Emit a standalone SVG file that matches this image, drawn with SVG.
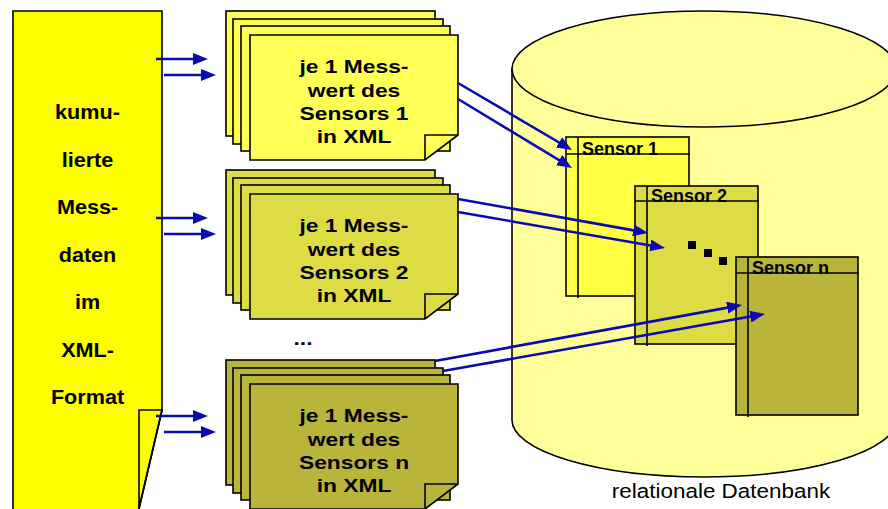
<svg xmlns="http://www.w3.org/2000/svg" width="888" height="509" viewBox="0 0 888 509">
  <defs>
    <style>
      .ln { stroke: #000; stroke-width: 1.6; stroke-linejoin: miter; }
      .doc { fill: #FFFF00; }
      .c1 { fill: #FFFF55; }
      .c2 { fill: #DEDC45; }
      .c3 { fill: #B8B53A; }
      .t1 { fill: #FFFF44; }
      .db { fill: #FFFF99; }
      .lbl { font-family: "Liberation Sans", Arial, sans-serif; font-weight: bold; fill: #000; text-anchor: middle; }
      .big { font-size: 19px; }
      .side { font-size: 20px; }
      .tab { font-family: "Liberation Sans", Arial, sans-serif; font-weight: bold; font-size: 18px; fill: #000; }
      .cap { font-family: "Liberation Sans", Arial, sans-serif; font-size: 21px; fill: #000; text-anchor: middle; }
      .arr { fill: none; stroke: #0A0AB0; stroke-width: 2.6; marker-end: url(#head); }
    </style>
    <marker id="head" markerUnits="userSpaceOnUse" markerWidth="15" markerHeight="12" refX="9" refY="6" orient="auto">
      <path d="M0,0 L15,6 L0,12 Z" fill="#0A0AB0"/>
    </marker>
    <!-- one record sheet: plain back sheets and a front sheet with folded corner -->
    <g id="sheets">
      <rect x="226" y="0" width="209" height="125"/>
      <rect x="233" y="8" width="210" height="125"/>
      <rect x="241" y="15" width="209" height="125"/>
      <path d="M250,24 H458 V124 L425,149 H250 Z"/>
    </g>
  </defs>

  <!-- database cylinder -->
  <g id="database">
    <path class="db ln" d="M512,69 V420 A192,57 0 0 0 896,420 V69 Z"/>
    <ellipse class="db ln" cx="704" cy="69" rx="192" ry="58"/>
    <text class="cap" transform="translate(721,498) scale(1.07,1)" x="0" y="0">relationale Datenbank</text>
  </g>

  <!-- tables inside the database -->
  <g id="table-sensor-1">
    <rect class="t1 ln" x="566" y="137" width="123" height="159"/>
    <text class="tab" x="582" y="154.5">Sensor 1</text>
    <path class="ln" d="M566,154 H690 M578,137 V298"/>
  </g>
  <g id="table-sensor-2">
    <rect class="c2 ln" x="635" y="186" width="123" height="158"/>
    <text class="tab" x="651" y="201.5">Sensor 2</text>
    <path class="ln" d="M635,201 H759 M647,186 V346"/>
  </g>
  <g id="ellipsis-dots">
    <rect x="688" y="241" width="8" height="8" fill="#000"/>
    <rect x="704" y="249" width="8" height="8" fill="#000"/>
    <rect x="719" y="257" width="8" height="8" fill="#000"/>
  </g>
  <g id="table-sensor-n">
    <rect class="c3 ln" x="736" y="257" width="122" height="158"/>
    <text class="tab" x="752" y="273.5">Sensor n</text>
    <path class="ln" d="M736,273 H859 M748,257 V417"/>
  </g>

  <!-- cumulated XML source document -->
  <g id="source-doc">
    <path class="doc ln" d="M13,11 H162 V410 L135,525 H13 Z"/>
    <path class="doc ln" d="M162,410 H139 V525 L135,525 Z"/>
    <path class="ln" fill="none" d="M162,410 L135.3,525"/>
    <g class="lbl side">
      <text transform="translate(87.5,119) scale(1.08,1)">kumu-</text>
      <text transform="translate(87.5,166.5) scale(1.08,1)">lierte</text>
      <text transform="translate(87.5,214) scale(1.08,1)">Mess-</text>
      <text transform="translate(87.5,261.5) scale(1.08,1)">daten</text>
      <text transform="translate(87.5,309) scale(1.08,1)">im</text>
      <text transform="translate(87.5,356.5) scale(1.08,1)">XML-</text>
      <text transform="translate(87.5,404) scale(1.08,1)">Format</text>
    </g>
  </g>

  <!-- per-sensor XML sheets -->
  <g id="sheets-sensor-1">
    <use href="#sheets" y="11" class="c1 ln"/>
    <path class="ln" fill="none" d="M425,160 V135 H458"/>
    <g class="lbl big">
      <text transform="translate(354,73) scale(1.2,1)">je 1 Mess-</text>
      <text transform="translate(354,96.5) scale(1.2,1)">wert des</text>
      <text transform="translate(354,120) scale(1.2,1)">Sensors 1</text>
      <text transform="translate(354,143) scale(1.2,1)">in XML</text>
    </g>
  </g>
  <g id="sheets-sensor-2">
    <use href="#sheets" y="170" class="c2 ln"/>
    <path class="ln" fill="none" d="M425,319 V294 H458"/>
    <g class="lbl big">
      <text transform="translate(354,232) scale(1.2,1)">je 1 Mess-</text>
      <text transform="translate(354,255.5) scale(1.2,1)">wert des</text>
      <text transform="translate(354,279) scale(1.2,1)">Sensors 2</text>
      <text transform="translate(354,302) scale(1.2,1)">in XML</text>
    </g>
  </g>
  <g id="ellipsis-text">
    <text class="lbl big" transform="translate(303,345) scale(1.2,1)">...</text>
  </g>
  <g id="sheets-sensor-n">
    <use href="#sheets" y="360" class="c3 ln"/>
    <path class="ln" fill="none" d="M425,509 V484 H458"/>
    <g class="lbl big">
      <text transform="translate(354,422) scale(1.2,1)">je 1 Mess-</text>
      <text transform="translate(354,445.5) scale(1.2,1)">wert des</text>
      <text transform="translate(354,469) scale(1.2,1)">Sensors n</text>
      <text transform="translate(354,492) scale(1.2,1)">in XML</text>
    </g>
  </g>

  <!-- connectors -->
  <g id="connectors">
    <line class="arr" x1="156" y1="59" x2="202" y2="59"/>
    <line class="arr" x1="164" y1="75" x2="210" y2="75"/>
    <line class="arr" x1="156" y1="218" x2="202" y2="218"/>
    <line class="arr" x1="164" y1="234" x2="210" y2="234"/>
    <line class="arr" x1="156" y1="416" x2="202" y2="416"/>
    <line class="arr" x1="164" y1="432" x2="210" y2="432"/>
    <line class="arr" x1="458" y1="83" x2="566.8" y2="147"/>
    <line class="arr" x1="458" y1="99" x2="566.9" y2="164.9"/>
    <line class="arr" x1="458" y1="199" x2="642.1" y2="231.9"/>
    <line class="arr" x1="458" y1="212" x2="659.1" y2="247"/>
    <line class="arr" x1="435" y1="361" x2="736.1" y2="306.1"/>
    <line class="arr" x1="443" y1="371" x2="759.1" y2="315"/>
  </g>
</svg>
